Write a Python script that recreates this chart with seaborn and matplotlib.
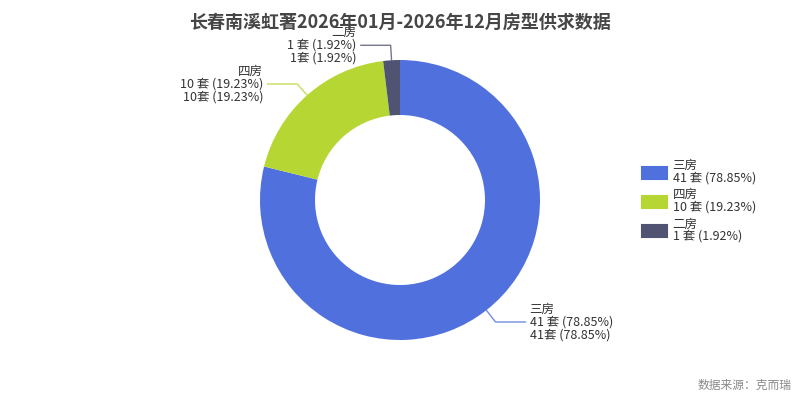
import numpy as np
import pandas as pd
import matplotlib
matplotlib.use('Agg')
import matplotlib.pyplot as plt
import seaborn as sns
from matplotlib.patches import Patch

# data
rooms = ['三房', '四房', '二房']
counts = [41, 10, 1]
pcts = ['78.85%', '19.23%', '1.92%']
colors = ['#5070dd', '#b6d634', '#505372']

title = '长春南溪虹著2026年01月-2026年12月房型供求数据'
source = '数据来源：克而瑞'

df = pd.DataFrame({'room': rooms, 'count': counts, 'pct': pcts, 'color': colors})

sns.set_theme(style='white')
plt.rcParams['font.family'] = ['Noto Sans CJK SC', 'DejaVu Sans']

fig = plt.figure(figsize=(8, 4), dpi=100)
# axes in pixel-like units, y upwards
ax = fig.add_axes([0, 0, 1, 1])

cx, cy, r = 400, 200, 140
wedges, _ = ax.pie(df['count'], colors=df['color'], startangle=90, counterclock=False,
                   center=(cx, cy), radius=r, frame=True,
                   wedgeprops=dict(width=55, edgecolor='white', linewidth=0))
ax.set_xlim(0, 800)
ax.set_ylim(0, 400)
ax.set_aspect('equal')
ax.axis('off')

# leader lines + labels
for w, row in zip(wedges, df.itertuples()):
    ang = np.deg2rad((w.theta1 + w.theta2) / 2)
    x0, y0 = cx + r * np.cos(ang), cy + r * np.sin(ang)
    x1, y1 = cx + (r + 15) * np.cos(ang), cy + (r + 15) * np.sin(ang)
    side = 1 if np.cos(ang) >= 0 else -1
    x2 = x1 + side * 30
    ax.plot([x0, x1, x2], [y0, y1, y1], color=row.color, lw=1, alpha=0.8)
    txt = f'{row.room}\n{row.count} 套 ({row.pct})\n{row.count}套 ({row.pct})'
    ax.text(x2 + side * 4, y1, txt, ha='left' if side > 0 else 'right',
            va='center', fontsize=9, color='#333333', linespacing=1.0,
            multialignment='left' if side > 0 else 'right')

# legend on the right
handles = [Patch(facecolor=c, edgecolor=c, joinstyle='round', linewidth=1.5) for c in colors]
labels = [f'{a}\n{b} 套 ({p})' for a, b, p in zip(rooms, counts, pcts)]
leg = ax.legend(handles, labels, loc='center left', bbox_to_anchor=(642, 199),
                bbox_transform=ax.transData, frameon=False, fontsize=9,
                handlelength=2.0, handleheight=1.1, handletextpad=0.45,
                labelspacing=0.3, borderpad=0, borderaxespad=0)
for t in leg.get_texts():
    t.set_color('#333333')
    t.set_linespacing(0.95)

# title sits on top of the 二房 label, as in the original
fig.text(0.5, 1 - 22 / 400, title, ha='center', va='center', fontsize=13,
         fontweight='bold', color='#464646', zorder=10)
fig.text(792 / 800, 1 - 385 / 400, source, ha='right', va='center', fontsize=8.5,
         color='#888888')

fig.savefig('out.png', dpi=100)
